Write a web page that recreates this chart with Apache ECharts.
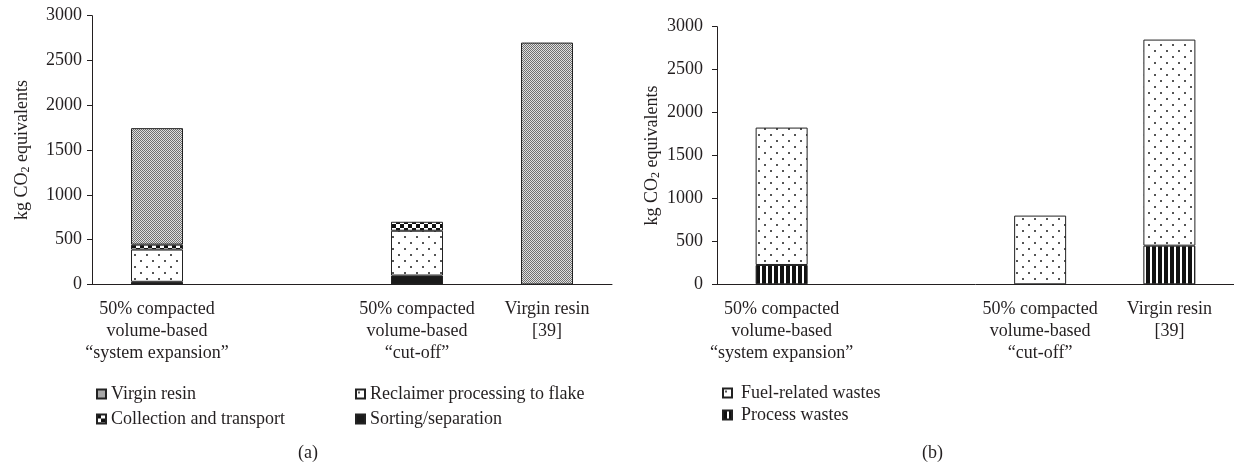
<!DOCTYPE html>
<html>
<head>
<meta charset="utf-8">
<script src="https://cdn.jsdelivr.net/npm/echarts@6/dist/echarts.min.js"></script>
<style>
html,body{margin:0;padding:0;background:#fff;}
#chart{width:1234px;height:466px;}
</style>
</head>
<body>
<div id="chart"></div>
<script>
// ---- data ----
const categories = ['50% compacted\nvolume-based\n\u201csystem expansion\u201d', '', '50% compacted\nvolume-based\n\u201ccut-off\u201d', 'Virgin resin\n[39]'];
const yTicks = [0, 500, 1000, 1500, 2000, 2500, 3000];
// panel (a)
const aSorting    = [30, null, 100, null];
const aReclaimer  = [360, null, 500, null];
const aCollection = [55, null, 100, null];
const aVirgin     = [1300, null, null, 2700];
// panel (b)
const bProcess = [225, null, null, 450];
const bFuel    = [1600, null, 800, 2400];

const FONT = 'Liberation Serif';
const INK = '#231f20';

function pat(w, h, draw) {
  const c = document.createElement('canvas');
  c.width = w; c.height = h;
  const g = c.getContext('2d');
  g.fillStyle = '#fff'; g.fillRect(0, 0, w, h);
  draw(g);
  return { image: c, repeat: 'repeat' };
}
const virginPat = pat(2, 2, g => { g.fillStyle = '#e0e0e0'; g.fillRect(0,0,2,2); g.fillStyle = '#707070'; g.fillRect(0,0,1,1); g.fillRect(1,1,1,1); });
const dotsPat = pat(12, 12, g => { g.fillStyle = '#555'; g.fillRect(2,2,2,2); g.fillRect(8,8,2,2); });
const checkPat = pat(8, 8, g => { g.fillStyle = '#111'; g.fillRect(0,0,4,4); g.fillRect(4,4,4,4); });
const stripePat = pat(6, 6, g => { g.fillStyle = '#111'; g.fillRect(0,0,4,6); });
const solidBlack = '#1a1a1a';

function yAxis(gridIndex, labelMargin, nameGap) {
  return {
    type: 'value', gridIndex, min: 0, max: 3000, interval: 500,
    axisLine: { show: true, lineStyle: { color: INK, width: 1 } },
    axisTick: { show: true, length: 5, lineStyle: { color: INK } },
    splitLine: { show: false },
    axisLabel: { fontFamily: FONT, fontSize: 18, color: INK, margin: labelMargin,
      formatter: v => yTicks.includes(v) ? String(v) : '' },
    name: 'kg CO{sub|2} equivalents', nameLocation: 'middle', nameRotate: 90, nameGap,
    nameTextStyle: { fontFamily: FONT, fontSize: 18, color: INK,
      rich: { sub: { fontFamily: FONT, fontSize: 12, color: INK, padding: [8, 0, 0, 0] } } }
  };
}
function xAxis(gridIndex) {
  return {
    type: 'category', gridIndex, data: categories,
    axisLine: { lineStyle: { color: INK, width: 1 } },
    axisTick: { length: 5, lineStyle: { color: INK } },
    axisLabel: { interval: 0, fontFamily: FONT, fontSize: 18, color: INK, lineHeight: 22, margin: 14 }
  };
}
function bar(name, data, color, xi) {
  return { type: 'bar', name, data, stack: 's' + xi, xAxisIndex: xi, yAxisIndex: xi, barWidth: 52,
    itemStyle: { color, borderColor: '#222', borderWidth: 1 }, emphasis: { disabled: true } };
}
const legendText = { fontFamily: FONT, fontSize: 18, color: INK, lineHeight: 20, padding: [0, 0, 0, 0] };

const chart = echarts.init(document.getElementById('chart'), null, { renderer: 'canvas' });
chart.setOption({
  animation: false,
  grid: [
    { left: 92, top: 15.7, width: 520, height: 268.8 },
    { left: 717, top: 26.7, width: 520, height: 257.6 }
  ],
  xAxis: [xAxis(0), xAxis(1)],
  yAxis: [yAxis(0, 10, 60), yAxis(1, 14, 55)],
  legend: [
    { data: ['Virgin resin', 'Collection and transport'], orient: 'vertical', left: 91, top: 379,
      itemWidth: 9, itemHeight: 9, itemGap: 5, icon: 'rect', textStyle: legendText, selectedMode: false },
    { data: ['Reclaimer processing to flake', 'Sorting/separation'], orient: 'vertical', left: 350, top: 379,
      itemWidth: 9, itemHeight: 9, itemGap: 5, icon: 'rect', textStyle: legendText, selectedMode: false },
    { data: ['Fuel-related wastes', 'Process wastes'], orient: 'vertical', left: 717, top: 378,
      itemWidth: 9, itemHeight: 9, itemGap: 2, icon: 'rect', textStyle: Object.assign({}, legendText, { padding: [0,0,0,4] }), selectedMode: false }
  ],
  graphic: [
    { type: 'text', left: 298, top: 444, style: { text: '(a)', font: '18px "Liberation Serif"', fill: INK } },
    { type: 'text', left: 922, top: 444, style: { text: '(b)', font: '18px "Liberation Serif"', fill: INK } }
  ],
  series: [
    bar('Sorting/separation', aSorting, solidBlack, 0),
    bar('Reclaimer processing to flake', aReclaimer, dotsPat, 0),
    bar('Collection and transport', aCollection, checkPat, 0),
    bar('Virgin resin', aVirgin, virginPat, 0),
    bar('Process wastes', bProcess, stripePat, 1),
    bar('Fuel-related wastes', bFuel, dotsPat, 1)
  ]
});
</script>
</body>
</html>
